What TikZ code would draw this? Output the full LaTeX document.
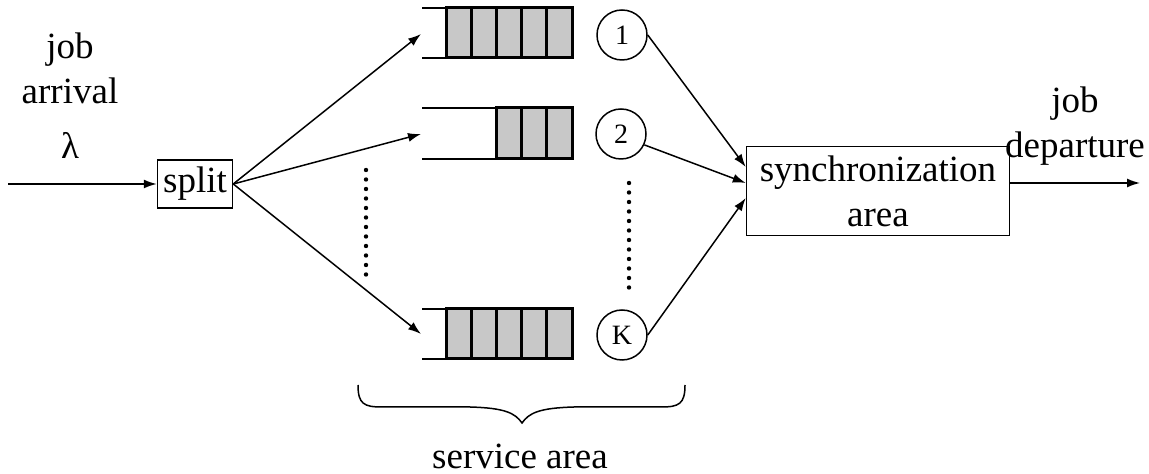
\documentclass[tikz,border=0pt]{standalone}
\usepackage{fontspec}
\setmainfont{Liberation Serif}
\usepackage{tikz}
\usetikzlibrary{
  arrows.meta,
  positioning,
  calc
}
\definecolor{cellgray}{HTML}{C8C8C8}

\begin{document}
\begin{tikzpicture}[
  x=0.5pt, y=-0.5pt, line width=0.75pt,
  font=\fontsize{18.5}{22.5}\selectfont,
  stepbox/.style={draw, inner sep=1pt, align=center},
  srv/.style={circle, draw, minimum size=25pt, inner sep=0pt,
              font=\fontsize{14}{14}\selectfont},
  cell/.style={draw, fill=cellgray, line width=1.5pt},
  arrow/.style={-{Latex[length=6.5pt,width=4.5pt]}},
  dots/.style={line width=2.2pt, line cap=round, dash pattern=on 0pt off 4.75pt},
  lbl/.style={align=center},
]
  \useasboundingbox (0,0) rectangle (1149,474);

  % input and split
  \coordinate (in) at (8,184);
  \node[stepbox, minimum width=37.5pt, minimum height=24pt] (split) at (195,184) {split};
  \node[lbl] (arr) at (70,68) {job\\arrival};
  \node (lam) at (70,145) {λ};
  \draw[arrow] (in) -- (split);

  % queues
  \draw (422,8) -- (446,8) (422,58) -- (446,58);
  \foreach \i in {0,...,4}
    \draw[cell] (446+\i*25.2,8) rectangle ++(25.2,50);
  \draw (422,108) -- (497,108) (422,159) -- (497,159);
  \foreach \i in {2,...,4}
    \draw[cell] (446+\i*25.2,108) rectangle ++(25.2,51);
  \draw (422,309) -- (446,309) (422,359) -- (446,359);
  \foreach \i in {0,...,4}
    \draw[cell] (446+\i*25.2,309) rectangle ++(25.2,50);
  \coordinate (q1) at (421,34);
  \coordinate (q2) at (421,134);
  \coordinate (qK) at (421,334);

  % servers
  \node[srv] (s1) at (622,35) {1};
  \node[srv] (s2) at (621,134) {2};
  \node[srv] (sK) at (622,335) {K};

  \draw[dots] (366,170) -- (366,275);
  \draw[dots] (629,183) -- (629,288);

  \draw[arrow] (split.east) -- (q1);
  \draw[arrow] (split.east) -- (q2);
  \draw[arrow] (split.east) -- (qK);

  % synchronization
  \node[stepbox, minimum width=131.5pt, minimum height=44.5pt] (sync) at (878,191)
    {synchronization\\area};
  \coordinate (out) at (1140,183);
  \node[lbl] (dep) at (1075,126) {job\\departure};

  \draw[arrow] (s1.east) -- ([yshift=12pt]sync.west);
  \draw[arrow] (s2.-25) -- ([yshift=4pt]sync.west);
  \draw[arrow] (sK.east) -- ([yshift=-3.5pt]sync.west);
  \draw[arrow] ([yshift=4pt]sync.east) -- (out);

  % service area brace
  \draw (358,385) .. controls (358,404) and (364,407) .. (382,407)
    -- (470,407) .. controls (505,408) and (515,413) .. (522,423)
    .. controls (529,413) and (539,408) .. (574,407) -- (661,407)
    .. controls (679,407) and (685,404) .. (685,385);
  \node (svc) at (520,456) {service area};
\end{tikzpicture}
\end{document}
